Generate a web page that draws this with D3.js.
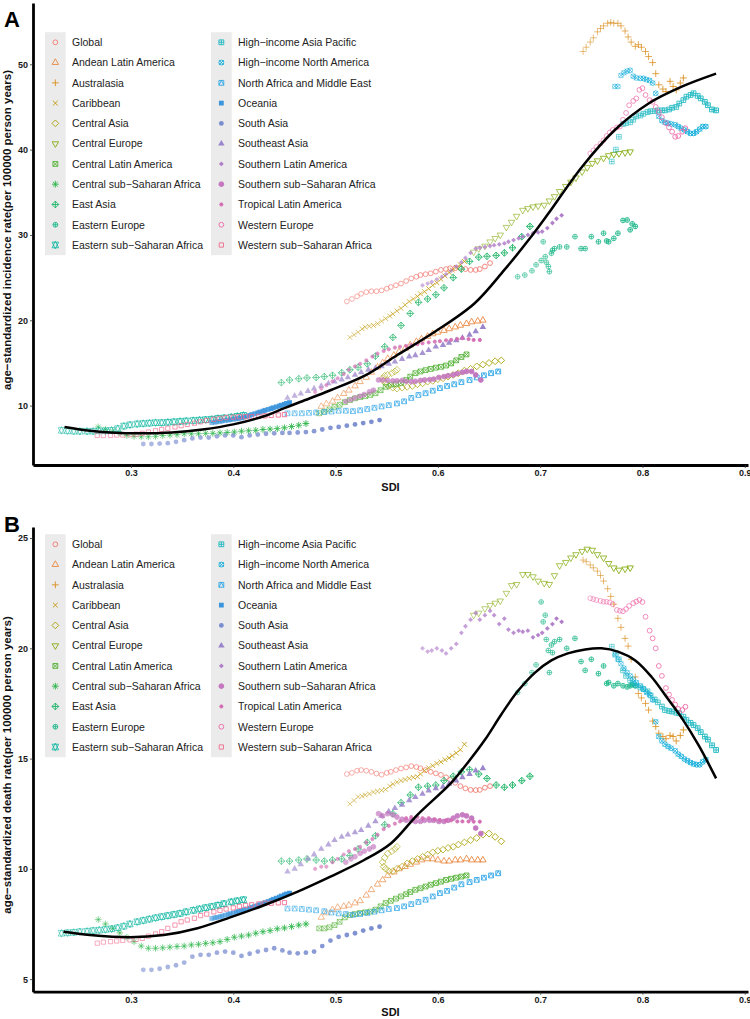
<!DOCTYPE html>
<html><head><meta charset="utf-8">
<script src="https://cdn.jsdelivr.net/npm/d3@7"></script>
<style>body{margin:0;background:#fff}svg{display:block}</style>
</head><body>
<svg id="chart" width="750" height="1019"></svg>
<script>
// ---------------- DATA (1990-2019, one value per year) ----------------
const years = d3.range(1990, 2020);
const regionNames = ["Global","Andean Latin America","Australasia","Caribbean","Central Asia","Central Europe","Central Latin America","Central sub−Saharan Africa","East Asia","Eastern Europe","Eastern sub−Saharan Africa","High−income Asia Pacific","High−income North America","North Africa and Middle East","Oceania","South Asia","Southeast Asia","Southern Latin America","Southern sub−Saharan Africa","Tropical Latin America","Western Europe","Western sub−Saharan Africa"];

const sdi_Global=[0.511,0.516,0.521,0.525,0.530,0.535,0.540,0.545,0.550,0.554,0.559,0.564,0.569,0.574,0.579,0.583,0.588,0.593,0.598,0.603,0.608,0.612,0.617,0.622,0.627,0.632,0.637,0.641,0.646,0.651];
const inc_Global=[22.2,22.5,22.8,23.1,23.3,23.4,23.4,23.5,23.7,23.9,24.1,24.3,24.6,24.9,25.1,25.3,25.4,25.5,25.7,25.9,26.0,26.1,26.1,26.1,26.0,25.9,25.9,26.0,26.3,26.7];
const dth_Global=[14.3,14.35,14.45,14.48,14.45,14.4,14.32,14.27,14.35,14.4,14.48,14.55,14.6,14.66,14.62,14.56,14.48,14.4,14.33,14.26,14.15,14.04,13.9,13.75,13.65,13.58,13.57,13.58,13.68,13.75];

const sdi_Andean=[0.486,0.491,0.497,0.502,0.508,0.513,0.519,0.524,0.530,0.535,0.541,0.546,0.551,0.557,0.562,0.568,0.573,0.579,0.584,0.590,0.595,0.600,0.606,0.611,0.617,0.622,0.628,0.633,0.639,0.644];
const inc_Andean=[9.9,10.2,10.5,10.9,11.4,11.8,12.3,12.8,13.3,13.9,14.5,15.0,15.5,15.9,16.3,16.7,17.1,17.5,17.8,18.1,18.4,18.6,18.8,19.0,19.2,19.4,19.6,19.8,19.9,20.0];
const dth_Andean=[7.8,8.0,8.15,8.25,8.3,8.35,8.45,8.55,8.8,9.05,9.3,9.5,9.7,9.85,10.0,10.1,10.2,10.3,10.4,10.45,10.45,10.4,10.35,10.35,10.4,10.4,10.45,10.4,10.4,10.4];

const sdi_Australasia=[0.742,0.745,0.749,0.752,0.756,0.759,0.762,0.766,0.769,0.772,0.776,0.779,0.783,0.786,0.789,0.793,0.796,0.799,0.803,0.806,0.810,0.813,0.816,0.820,0.823,0.827,0.830,0.833,0.837,0.840];
const inc_Australasia=[51.5,52.0,52.6,53.1,53.8,54.2,54.5,54.8,54.9,54.8,54.8,54.5,53.9,53.2,52.6,52.1,52.3,52.0,51.5,50.9,50.2,48.9,47.6,47.1,46.8,48.0,47.4,47.0,47.8,48.4];
const dth_Australasia=[24.0,23.93,23.78,23.65,23.5,23.3,23.05,22.7,22.35,22.0,21.36,20.95,20.45,20.1,19.5,18.7,17.95,17.75,17.5,17.2,16.7,16.45,16.15,16.0,15.9,16.05,16.0,15.8,16.05,16.3];

const sdi_Caribbean=[0.514,0.518,0.522,0.526,0.529,0.533,0.537,0.541,0.545,0.549,0.553,0.556,0.560,0.564,0.568,0.572,0.576,0.580,0.583,0.587,0.591,0.595,0.599,0.603,0.607,0.611,0.614,0.618,0.622,0.626];
const inc_Caribbean=[18.0,18.3,18.6,19.0,19.2,19.3,19.4,19.6,19.9,20.2,20.5,20.75,21.1,21.4,21.8,22.2,22.5,22.8,23.1,23.35,23.7,24.1,24.4,24.8,25.2,25.6,25.9,26.2,26.5,26.9];
const dth_Caribbean=[12.95,13.1,13.27,13.3,13.35,13.4,13.48,13.52,13.56,13.6,13.75,13.85,13.93,14.0,14.05,14.1,14.15,14.18,14.3,14.45,14.58,14.68,14.78,14.85,14.95,15.03,15.13,15.25,15.4,15.65];

const sdi_CentralAsia=[0.560,0.558,0.555,0.551,0.548,0.546,0.547,0.549,0.552,0.556,0.560,0.565,0.570,0.575,0.580,0.585,0.590,0.595,0.600,0.605,0.610,0.615,0.620,0.626,0.632,0.638,0.644,0.650,0.656,0.662];
const inc_CentralAsia=[14.2,14.0,13.8,13.6,13.5,13.2,12.9,12.6,12.3,12.1,12.0,12.1,12.2,12.3,12.5,12.6,12.8,12.9,13.1,13.2,13.4,13.6,13.8,14.1,14.3,14.6,14.8,15.0,15.2,15.3];
const dth_CentralAsia=[11.0,10.9,10.8,10.7,10.5,10.3,10.1,10.0,9.9,9.9,10.0,10.1,10.25,10.35,10.45,10.55,10.65,10.75,10.82,10.87,10.95,11.0,11.1,11.2,11.3,11.4,11.55,11.6,11.45,11.25];

const sdi_CentralEurope=[0.635,0.640,0.646,0.651,0.656,0.661,0.667,0.672,0.677,0.683,0.688,0.693,0.698,0.704,0.709,0.714,0.719,0.725,0.730,0.735,0.741,0.746,0.751,0.756,0.762,0.767,0.772,0.777,0.783,0.788];
const inc_CentralEurope=[28.0,28.4,28.7,29.2,29.6,30.0,30.9,31.5,32.2,32.9,33.1,33.3,33.4,33.5,34.0,34.5,35.1,35.7,36.2,36.7,37.4,37.9,38.4,38.7,39.0,39.3,39.45,39.55,39.65,39.75];
const dth_CentralEurope=[21.5,21.6,21.8,21.95,22.05,22.15,22.5,22.85,22.9,23.35,23.35,23.25,23.05,22.95,22.9,23.3,23.75,23.9,24.1,24.25,24.4,24.5,24.45,24.25,24.1,23.85,23.65,23.55,23.6,23.65];

const sdi_CentralLatin=[0.484,0.489,0.494,0.499,0.504,0.509,0.514,0.519,0.524,0.529,0.534,0.539,0.544,0.549,0.554,0.559,0.564,0.569,0.573,0.578,0.583,0.588,0.593,0.598,0.603,0.608,0.613,0.618,0.623,0.628];
const inc_CentralLatin=[9.1,9.3,9.55,9.85,10.1,10.4,10.65,10.85,11.0,11.1,11.25,11.45,11.8,12.2,12.45,12.5,12.65,13.0,13.4,13.8,14.0,14.15,14.3,14.45,14.55,14.7,14.95,15.3,15.7,16.0];
const dth_CentralLatin=[7.3,7.3,7.35,7.45,7.6,7.8,7.9,7.95,8.0,8.03,8.06,8.15,8.3,8.45,8.55,8.65,8.75,8.85,8.95,9.05,9.12,9.2,9.28,9.35,9.42,9.5,9.55,9.6,9.65,9.7];

const sdi_CentralSSA=[0.268,0.275,0.282,0.289,0.296,0.303,0.310,0.317,0.324,0.331,0.338,0.345,0.352,0.359,0.366,0.373,0.380,0.387,0.394,0.401,0.408,0.415,0.422,0.429,0.436,0.443,0.450,0.457,0.464,0.471];
const inc_CentralSSA=[7.5,7.2,7.0,6.8,6.5,6.4,6.35,6.35,6.4,6.5,6.55,6.6,6.7,6.7,6.7,6.75,6.75,6.8,6.85,6.9,7.0,7.05,7.1,7.2,7.25,7.3,7.4,7.55,7.7,7.9];
const dth_CentralSSA=[7.7,7.5,7.3,7.1,6.9,6.7,6.5,6.4,6.4,6.42,6.45,6.48,6.5,6.55,6.58,6.62,6.65,6.7,6.8,6.9,6.95,7.0,7.08,7.15,7.2,7.28,7.32,7.38,7.45,7.5];

const sdi_EastAsia=[0.447,0.455,0.464,0.472,0.481,0.489,0.497,0.506,0.514,0.522,0.531,0.539,0.548,0.556,0.564,0.573,0.581,0.590,0.598,0.606,0.615,0.623,0.631,0.640,0.648,0.657,0.665,0.673,0.682,0.690];
const inc_EastAsia=[12.7,13.0,13.15,13.25,13.3,13.4,13.55,13.85,14.2,14.5,14.9,15.8,16.9,18.0,19.4,20.8,22.1,22.5,23.0,23.8,25.0,26.0,26.9,27.4,27.5,27.6,27.9,28.5,29.8,31.0];
const dth_EastAsia=[10.35,10.35,10.4,10.45,10.4,10.35,10.4,10.45,10.6,10.9,11.2,11.5,12.0,12.5,13.0,13.35,13.7,13.75,13.8,14.0,14.2,14.4,14.5,14.3,14.1,13.8,13.7,13.8,14.0,14.2];

const sdi_EasternEurope=[0.678,0.685,0.692,0.696,0.701,0.703,0.705,0.706,0.708,0.709,0.711,0.712,0.714,0.719,0.726,0.734,0.740,0.744,0.750,0.757,0.762,0.765,0.767,0.772,0.776,0.781,0.785,0.788,0.790,0.793];
const inc_EasternEurope=[25.1,25.3,25.8,26.5,27.0,29.2,27.45,26.8,26.3,25.7,27.85,28.2,28.4,28.6,28.6,29.8,28.4,28.4,29.8,29.2,30.2,29.3,29.2,29.6,30.2,31.7,31.75,30.6,31.3,31.0];
const dth_EasternEurope=[18.0,18.4,18.9,19.25,22.1,21.2,21.5,20.4,19.9,18.9,20.15,19.8,20.3,20.4,20.0,20.45,19.4,19.0,19.5,18.85,19.2,18.4,18.45,18.3,18.4,18.3,18.25,18.3,18.35,18.3];

const sdi_EasternSSA=[0.232,0.238,0.244,0.250,0.257,0.263,0.269,0.275,0.281,0.287,0.293,0.299,0.306,0.312,0.318,0.324,0.330,0.336,0.342,0.348,0.354,0.361,0.367,0.373,0.379,0.385,0.391,0.398,0.404,0.410];
const inc_EasternSSA=[7.1,7.05,7.0,7.0,7.0,7.0,7.05,7.05,7.1,7.3,7.6,7.75,7.85,7.9,7.95,8.0,8.0,8.05,8.1,8.15,8.2,8.25,8.3,8.35,8.4,8.5,8.55,8.65,8.75,8.85];
const dth_EasternSSA=[7.08,7.1,7.12,7.15,7.17,7.2,7.22,7.25,7.28,7.33,7.4,7.5,7.6,7.66,7.72,7.78,7.83,7.88,7.93,7.98,8.05,8.12,8.18,8.24,8.29,8.35,8.42,8.5,8.55,8.6];

const sdi_HIAsiaPacific=[0.770,0.774,0.777,0.781,0.784,0.788,0.791,0.794,0.798,0.801,0.805,0.808,0.812,0.815,0.819,0.822,0.826,0.829,0.833,0.836,0.840,0.843,0.847,0.850,0.854,0.857,0.861,0.864,0.868,0.872];
const inc_HIAsiaPacific=[38.6,40.0,41.5,43.0,43.1,43.2,43.5,43.9,44.0,44.2,44.4,44.5,44.5,44.6,44.6,44.6,44.7,44.9,45.0,45.4,45.8,46.2,46.4,46.6,46.3,46.0,45.6,45.2,44.7,44.6];
const dth_HIAsiaPacific=[20.07,19.75,19.5,19.0,18.75,18.55,18.41,18.32,18.22,18.15,18.05,17.86,17.68,17.55,17.36,17.2,17.16,17.13,17.08,17.05,16.9,16.75,16.62,16.52,16.38,16.2,16.0,15.86,15.6,15.39];

const sdi_HINorthAmerica=[0.773,0.776,0.779,0.782,0.785,0.788,0.791,0.794,0.798,0.801,0.804,0.807,0.810,0.813,0.816,0.819,0.822,0.825,0.828,0.832,0.835,0.838,0.841,0.844,0.847,0.850,0.853,0.856,0.859,0.862];
const inc_HINorthAmerica=[47.4,47.4,48.7,49.0,49.2,49.3,48.6,48.4,48.35,48.35,48.2,48.1,47.8,46.6,43.9,43.4,43.2,43.1,43.0,42.9,42.7,42.5,42.3,42.1,41.9,41.9,42.1,42.4,42.7,42.7];
const dth_HINorthAmerica=[19.7,19.5,19.3,19.1,18.9,18.75,18.6,18.45,18.3,18.15,18.0,17.9,17.66,16.67,16.0,15.8,15.65,15.55,15.47,15.35,15.2,15.1,14.98,14.9,14.82,14.76,14.72,14.72,14.85,14.95];

const sdi_NAME=[0.453,0.460,0.467,0.474,0.481,0.489,0.496,0.503,0.510,0.517,0.524,0.531,0.538,0.545,0.552,0.560,0.567,0.574,0.581,0.588,0.595,0.602,0.609,0.616,0.623,0.631,0.638,0.645,0.652,0.659];
const inc_NAME=[9.1,9.1,9.1,9.15,9.2,9.25,9.3,9.4,9.4,9.35,9.45,9.6,9.75,9.9,10.05,10.25,10.5,10.9,11.25,11.45,11.75,12.05,12.3,12.5,12.75,13.0,13.3,13.55,13.8,14.0];
const dth_NAME=[8.2,8.2,8.18,8.15,8.12,8.08,8.02,7.98,7.95,7.92,7.95,8.0,8.06,8.12,8.18,8.22,8.3,8.4,8.5,8.6,8.75,8.9,9.0,9.15,9.3,9.4,9.5,9.6,9.7,9.8];

const sdi_Oceania=[0.379,0.382,0.384,0.387,0.389,0.392,0.395,0.397,0.400,0.403,0.405,0.408,0.410,0.413,0.416,0.418,0.421,0.424,0.426,0.429,0.431,0.434,0.437,0.439,0.442,0.445,0.447,0.450,0.452,0.455];
const inc_Oceania=[8.0,8.05,8.1,8.15,8.2,8.25,8.3,8.35,8.4,8.45,8.5,8.55,8.65,8.75,8.85,8.95,9.05,9.15,9.25,9.35,9.45,9.55,9.65,9.75,9.85,9.95,10.05,10.15,10.25,10.35];
const dth_Oceania=[7.75,7.78,7.8,7.83,7.86,7.9,7.93,7.97,8.0,8.03,8.07,8.1,8.14,8.18,8.22,8.26,8.3,8.34,8.38,8.42,8.47,8.52,8.57,8.62,8.67,8.72,8.77,8.82,8.86,8.9];

const sdi_SouthAsia=[0.312,0.320,0.328,0.336,0.344,0.352,0.360,0.368,0.376,0.384,0.392,0.400,0.408,0.416,0.424,0.432,0.440,0.448,0.455,0.463,0.471,0.479,0.487,0.495,0.503,0.511,0.519,0.527,0.535,0.543];
const inc_SouthAsia=[5.5,5.5,5.55,5.6,5.75,5.95,6.15,6.25,6.25,6.4,6.5,6.5,6.3,6.5,6.6,6.7,6.75,6.8,6.8,6.85,6.9,7.0,7.2,7.4,7.5,7.65,7.8,7.95,8.1,8.3];
const dth_SouthAsia=[5.42,5.42,5.47,5.55,5.63,5.75,6.02,6.1,6.1,6.2,6.25,6.2,6.05,6.15,6.25,6.32,6.4,6.3,6.2,6.17,6.2,6.25,6.5,6.75,6.92,7.0,7.08,7.2,7.3,7.38];

const sdi_SoutheastAsia=[0.453,0.460,0.466,0.473,0.479,0.486,0.493,0.499,0.506,0.512,0.519,0.525,0.532,0.539,0.545,0.552,0.558,0.565,0.572,0.578,0.585,0.591,0.598,0.605,0.611,0.618,0.624,0.631,0.637,0.644];
const inc_SoutheastAsia=[10.9,11.15,11.4,11.7,12.0,12.3,12.6,12.8,13.05,13.3,13.6,13.9,14.2,14.4,14.6,14.9,15.15,15.45,15.75,15.9,16.15,16.5,16.9,17.1,17.35,17.65,17.95,18.3,18.7,19.2];
const dth_SoutheastAsia=[9.87,10.0,10.2,10.45,10.65,10.9,11.1,11.3,11.45,11.55,11.65,11.75,11.95,12.15,12.4,12.6,12.75,12.9,13.1,13.25,13.4,13.55,13.65,13.72,13.85,14.0,14.15,14.3,14.45,14.56];

const sdi_SouthernLatin=[0.585,0.590,0.594,0.599,0.604,0.608,0.613,0.618,0.623,0.627,0.632,0.637,0.641,0.646,0.651,0.655,0.660,0.665,0.669,0.674,0.679,0.683,0.688,0.693,0.698,0.702,0.707,0.712,0.716,0.721];
const inc_SouthernLatin=[24.1,24.3,24.5,24.8,25.1,25.4,25.8,26.3,26.8,27.3,27.9,28.4,28.5,28.6,28.7,28.8,28.9,29.0,29.2,29.4,29.6,29.8,30.0,30.2,30.3,30.4,30.8,31.4,31.9,32.3];
const dth_SouthernLatin=[20.0,19.85,19.9,20.0,19.9,19.77,20.0,20.2,20.7,21.0,21.3,21.6,21.3,21.5,21.7,21.5,21.1,21.35,20.85,20.7,20.8,20.75,20.8,20.5,20.6,20.7,20.9,21.1,21.35,21.2];

const sdi_SouthernSSA=[0.510,0.515,0.519,0.524,0.528,0.533,0.537,0.542,0.546,0.551,0.556,0.560,0.565,0.569,0.574,0.578,0.583,0.587,0.592,0.596,0.601,0.606,0.610,0.615,0.619,0.624,0.628,0.633,0.637,0.642];
const inc_SouthernSSA=[10.5,10.7,10.9,11.1,11.3,11.6,11.8,13.0,13.0,12.95,12.9,12.9,12.95,12.85,12.8,12.85,12.95,13.0,13.05,13.1,13.3,13.4,13.5,13.6,13.75,13.9,14.0,14.0,13.6,13.0];
const dth_SouthernSSA=[10.3,10.45,10.55,10.7,10.8,10.9,11.0,12.5,12.4,12.5,12.45,12.35,12.25,12.2,12.2,12.15,12.15,12.2,12.2,12.2,12.15,12.15,12.2,12.3,12.4,12.45,12.4,12.3,11.85,11.6];

const sdi_TropicalLatin=[0.480,0.486,0.491,0.497,0.502,0.508,0.513,0.519,0.524,0.530,0.536,0.541,0.547,0.552,0.558,0.563,0.569,0.574,0.580,0.585,0.591,0.597,0.602,0.608,0.613,0.619,0.624,0.630,0.635,0.641];
const inc_TropicalLatin=[11.6,12.0,12.4,12.85,13.2,13.7,14.2,14.6,14.9,15.3,15.75,16.1,16.4,16.6,16.8,16.9,17.0,17.1,17.2,17.3,17.4,17.5,17.55,17.65,17.7,17.8,17.9,17.8,17.7,17.7];
const dth_TropicalLatin=[10.0,10.1,10.1,10.3,10.45,10.65,10.8,10.9,11.0,11.2,11.35,11.55,11.8,11.95,12.05,12.15,12.3,12.35,12.35,12.3,12.3,12.25,12.22,12.2,12.2,12.15,12.15,12.15,12.14,12.14];

const sdi_WesternEurope=[0.749,0.752,0.755,0.759,0.762,0.765,0.768,0.771,0.775,0.778,0.781,0.784,0.787,0.791,0.794,0.797,0.800,0.803,0.807,0.810,0.813,0.816,0.819,0.823,0.826,0.829,0.832,0.835,0.839,0.842];
const inc_WesternEurope=[39.55,39.9,40.3,40.7,41.1,41.6,42.0,42.3,42.6,42.7,43.5,44.3,45.2,45.7,46.0,47.0,47.2,46.4,45.8,45.6,45.0,44.4,43.8,43.1,42.6,42.1,41.5,41.6,42.1,42.5];
const dth_WesternEurope=[22.27,22.23,22.19,22.15,22.11,22.11,22.08,22.0,21.74,21.7,21.68,21.78,21.92,22.05,22.12,22.19,22.1,21.43,20.8,20.45,20.0,19.2,18.75,18.2,17.9,17.66,17.45,17.25,17.2,17.35];

const sdi_WesternSSA=[0.267,0.273,0.280,0.286,0.292,0.299,0.305,0.311,0.317,0.324,0.330,0.336,0.343,0.349,0.355,0.362,0.368,0.374,0.381,0.387,0.393,0.400,0.406,0.412,0.418,0.425,0.431,0.437,0.444,0.450];
const inc_WesternSSA=[6.5,6.5,6.5,6.55,6.55,6.6,6.65,6.75,6.9,7.05,7.2,7.35,7.5,7.65,7.8,7.95,8.1,8.25,8.4,8.5,8.6,8.65,8.7,8.7,8.7,8.75,8.8,8.85,8.9,8.95];
const dth_WesternSSA=[6.63,6.68,6.7,6.73,6.76,6.78,6.8,6.85,6.95,7.05,7.15,7.3,7.45,7.6,7.68,7.76,7.88,7.95,8.05,8.12,8.18,8.23,8.3,8.34,8.37,8.41,8.44,8.44,8.46,8.47];

// fitted smooth curves (SDI, value)
const loessInc=[[0.235,7.5],[0.26,7.05],[0.28,6.85],[0.31,6.75],[0.34,6.85],[0.37,7.2],[0.40,7.8],[0.43,8.75],[0.45,9.7],[0.466,10.45],[0.495,11.8],[0.53,13.6],[0.56,15.9],[0.597,18.65],[0.636,22.0],[0.665,25.9],[0.69,29.6],[0.708,32.5],[0.741,38.0],[0.773,42.3],[0.806,45.4],[0.839,47.4],[0.872,48.9]];
const loessDth=[[0.234,7.15],[0.26,7.0],[0.299,6.9],[0.332,7.0],[0.365,7.31],[0.397,7.8],[0.43,8.35],[0.463,8.97],[0.495,9.65],[0.528,10.4],[0.554,11.15],[0.58,12.45],[0.613,13.9],[0.629,14.8],[0.646,15.85],[0.662,17.0],[0.678,18.05],[0.695,18.9],[0.711,19.45],[0.727,19.77],[0.744,19.95],[0.76,20.0],[0.776,19.85],[0.793,19.45],[0.809,18.7],[0.825,17.7],[0.839,16.8],[0.855,15.6],[0.872,14.1]];

const xTicks=[0.3,0.4,0.5,0.6,0.7,0.8,0.9];
const incTicks=[10,20,30,40,50];
const dthTicks=[5,10,15,20,25];

const regionData=[
 {sdi:sdi_Global,inc:inc_Global,dth:dth_Global},
 {sdi:sdi_Andean,inc:inc_Andean,dth:dth_Andean},
 {sdi:sdi_Australasia,inc:inc_Australasia,dth:dth_Australasia},
 {sdi:sdi_Caribbean,inc:inc_Caribbean,dth:dth_Caribbean},
 {sdi:sdi_CentralAsia,inc:inc_CentralAsia,dth:dth_CentralAsia},
 {sdi:sdi_CentralEurope,inc:inc_CentralEurope,dth:dth_CentralEurope},
 {sdi:sdi_CentralLatin,inc:inc_CentralLatin,dth:dth_CentralLatin},
 {sdi:sdi_CentralSSA,inc:inc_CentralSSA,dth:dth_CentralSSA},
 {sdi:sdi_EastAsia,inc:inc_EastAsia,dth:dth_EastAsia},
 {sdi:sdi_EasternEurope,inc:inc_EasternEurope,dth:dth_EasternEurope},
 {sdi:sdi_EasternSSA,inc:inc_EasternSSA,dth:dth_EasternSSA},
 {sdi:sdi_HIAsiaPacific,inc:inc_HIAsiaPacific,dth:dth_HIAsiaPacific},
 {sdi:sdi_HINorthAmerica,inc:inc_HINorthAmerica,dth:dth_HINorthAmerica},
 {sdi:sdi_NAME,inc:inc_NAME,dth:dth_NAME},
 {sdi:sdi_Oceania,inc:inc_Oceania,dth:dth_Oceania},
 {sdi:sdi_SouthAsia,inc:inc_SouthAsia,dth:dth_SouthAsia},
 {sdi:sdi_SoutheastAsia,inc:inc_SoutheastAsia,dth:dth_SoutheastAsia},
 {sdi:sdi_SouthernLatin,inc:inc_SouthernLatin,dth:dth_SouthernLatin},
 {sdi:sdi_SouthernSSA,inc:inc_SouthernSSA,dth:dth_SouthernSSA},
 {sdi:sdi_TropicalLatin,inc:inc_TropicalLatin,dth:dth_TropicalLatin},
 {sdi:sdi_WesternEurope,inc:inc_WesternEurope,dth:dth_WesternEurope},
 {sdi:sdi_WesternSSA,inc:inc_WesternSSA,dth:dth_WesternSSA}
].map((d,i)=>({...d,name:regionNames[i],shape:i+1}));

// ---------------- STYLE ----------------
const palette=["#F2766E","#E8843A","#DB8E1F","#C49A0A","#A9A206","#86AC12","#52B134","#2DB54B","#1DB466","#1DB78A","#1ABAA6","#19B7BF","#13AEDA","#2FA6E6","#3B95DC","#7A8DCF","#9A84CB","#B07DC9","#C476BF","#D46CB3","#EE67A6","#F16B8E"];
const alphaYear=d3.scaleLinear().domain([1990,2019]).range([0.6,1]);
const R=2.4, SW=0.9;

function shapeSpec(pch,r){
  const c=q=>`M${-q},0A${q},${q} 0 1,0 ${q},0A${q},${q} 0 1,0 ${-q},0Z`;
  const sq=h=>`M${-h},${-h}H${h}V${h}H${-h}Z`;
  const T0=Math.sqrt(4*Math.PI/(3*Math.sqrt(3))), T1=T0*Math.sqrt(3)/2, T2=T0/2;
  const tr=dir=>{const a=T0*r,xc=T1*r,yc=T2*r;return dir>0?`M0,${-a}L${xc},${yc}L${-xc},${yc}Z`:`M0,${a}L${xc},${-yc}L${-xc},${-yc}Z`;};
  const plus=h=>`M${-h},0H${h}M0,${-h}V${h}`;
  const cross=h=>`M${-h},${-h}L${h},${h}M${-h},${h}L${h},${-h}`;
  const dia=h=>`M0,${-h}L${h},0L0,${h}L${-h},0Z`;
  const S2=Math.SQRT2;
  switch(pch){
    case 1: return {d:c(r)};
    case 2: return {d:tr(1)};
    case 3: return {d:plus(S2*r)};
    case 4: return {d:cross(r)};
    case 5: return {d:dia(S2*r)};
    case 6: return {d:tr(-1)};
    case 7: return {d:sq(r)+cross(r)};
    case 8: return {d:cross(r)+plus(S2*r)};
    case 9: return {d:dia(S2*r)+plus(S2*r)};
    case 10: return {d:c(r)+plus(r)};
    case 11: {const a=T0*r,xc=T1*r,yc=0.5*(T2*r+a);return {d:`M0,${a}L${xc},${-yc}L${-xc},${-yc}ZM0,${-a}L${xc},${yc}L${-xc},${yc}Z`};}
    case 12: return {d:sq(r)+plus(r)};
    case 13: return {d:c(r)+cross(r)};
    case 14: return {d:sq(r)+`M${-r},${r}L0,${-r}L${r},${r}`};
    case 15: return {d:sq(r),fill:true,noStroke:true};
    case 16: return {d:c(r),fill:true,noStroke:true};
    case 17: return {d:tr(1),fill:true,noStroke:true};
    case 18: return {d:dia(r),fill:true,noStroke:true};
    case 19: return {d:c(r),fill:true};
    case 20: return {d:c(r*2/3),fill:true};
    case 21: return {d:c(r)};
    case 22: return {d:sq(r*0.886)};
  }
}
function drawSymbol(g,pch,color,x,y,op){
  const s=shapeSpec(pch,R);
  g.append("path").attr("d",s.d).attr("transform",`translate(${x},${y})`)
   .attr("fill",s.fill?color:"none").attr("stroke",s.noStroke?"none":color)
   .attr("stroke-width",SW).attr("opacity",op);
}

// ---------------- DRAW ----------------
const svg=d3.select("#chart");
svg.append("rect").attr("width",750).attr("height",1019).attr("fill","#fff");
const FONT="'Liberation Sans',Arial,Helvetica,sans-serif";
const x=d3.scaleLinear().domain([0.2042,0.9032]).range([33,748]);

const panels=[
 {key:"inc",tag:"A",tagY:26.7,top:3,bottom:465,dom:[3.04,57.18],ticks:incTicks,curve:loessInc,sdiY:491,titleY:230,
  title:"age−standardized incidence rate(per 100000 person years)",leg0:42.3},
 {key:"dth",tag:"B",tagY:531.7,top:527,bottom:991.7,dom:[4.43,25.5],ticks:dthTicks,curve:loessDth,sdiY:1016,titleY:765,
  title:"age−standardized death rate(per 100000 person years)",leg0:544.3}
];

panels.forEach(p=>{
  const y=d3.scaleLinear().domain(p.dom).range([p.bottom,p.top]);
  const g=svg.append("g");

  // legend (behind data)
  const lg=g.append("g");
  [[45,0],[211,11]].forEach(([lx,off])=>{
    lg.append("rect").attr("x",lx).attr("y",p.leg0-10.1).attr("width",20.7).attr("height",20.27*11).attr("fill","#EBEBEB");
    for(let k=0;k<11;k++){
      const i=off+k, cy=p.leg0+k*20.27;
      drawSymbol(lg,i+1,palette[i],lx+10.35,cy,1);
      lg.append("text").attr("x",lx+27).attr("y",cy).attr("dy","0.36em")
        .attr("font-family",FONT).attr("font-size",10.5).attr("fill","#222").text(regionNames[i]);
    }
  });

  // points
  const pg=g.append("g");
  regionData.forEach((r,ri)=>{
    const vals=r[p.key];
    const n=Math.min(r.sdi.length,vals.length,years.length);
    for(let k=0;k<n;k++) drawSymbol(pg,r.shape,palette[ri],x(r.sdi[k]),y(vals[k]),alphaYear(years[k]));
  });

  // smooth curve
  g.append("path").datum(p.curve)
   .attr("d",d3.line().x(d=>x(d[0])).y(d=>y(d[1])).curve(d3.curveCatmullRom.alpha(0.5)))
   .attr("fill","none").attr("stroke","#000").attr("stroke-width",2.5);

  // axes
  const ax=g.append("g").attr("transform",`translate(0,${p.bottom})`)
    .call(d3.axisBottom(x).tickValues(xTicks).tickFormat(d3.format(".1f")).tickSizeInner(3).tickSizeOuter(0).tickPadding(2));
  const ay=g.append("g").attr("transform","translate(33,0)")
    .call(d3.axisLeft(y).tickValues(p.ticks).tickSizeInner(3).tickSizeOuter(0).tickPadding(2));
  [ax,ay].forEach(a=>{
    a.select(".domain").attr("stroke","#000").attr("stroke-width",2.8);
    a.selectAll(".tick line").attr("stroke","#333").attr("stroke-width",0.8);
    a.selectAll(".tick text").attr("font-family",FONT).attr("font-size",9).attr("font-weight","bold").attr("fill","#1a1a1a");
  });

  // titles
  g.append("text").attr("x",390.5).attr("y",p.sdiY).attr("text-anchor","middle")
   .attr("font-family",FONT).attr("font-size",11).attr("font-weight","bold").attr("fill","#111").text("SDI");
  g.append("text").attr("transform",`translate(10.5,${p.titleY}) rotate(-90)`).attr("text-anchor","middle")
   .attr("font-family",FONT).attr("font-size",11.5).attr("font-weight","bold").attr("fill","#111").text(p.title);
  g.append("text").attr("x",4).attr("y",p.tagY).attr("font-family",FONT).attr("font-size",22).attr("font-weight","bold").attr("fill","#000").text(p.tag);
});
</script>
</body></html>
